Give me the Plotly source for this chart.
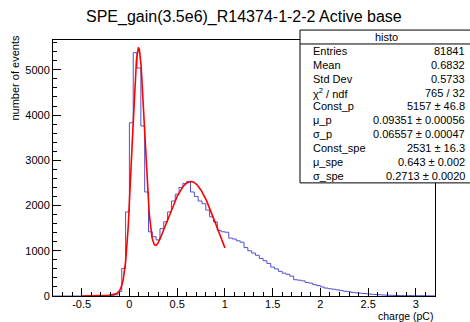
import numpy as np
import plotly.graph_objects as go

# ---------------- data ----------------
title = "SPE_gain(3.5e6)_R14374-1-2-2 Active base"
hist_low = -0.8
hist_bin_width = 0.04
counts = [
    0, 0, 0, 0, 0, 0, 0, 0, 0, 0,
    0, 0, 1, 2, 3, 8, 25, 100, 610, 1860,
    3830, 5380, 5040, 3760, 2300, 1420, 1310, 1240, 1490, 1640,
    1860, 2100, 2250, 2400, 2490, 2530, 2300, 2200, 2100, 2040,
    1900, 1750, 1640, 1450, 1420, 1410, 1280, 1260, 1220, 1190,
    1070, 1000, 950, 900, 830, 780, 720, 640, 600, 545,
    505, 480, 440, 360, 350, 335, 300, 285, 250, 230,
    200, 175, 160, 150, 135, 120, 105, 95, 80, 70,
    62, 55, 45, 38, 33, 28, 22, 18, 15, 13,
    11, 10, 8, 10, 7, 6, 8, 5, 4, 3,
]
# fit parameters (two gaussians), fit range
fit_params = {"Const_p": 5157, "mu_p": 0.09351, "sigma_p": 0.06557,
              "Const_spe": 2531, "mu_spe": 0.643, "sigma_spe": 0.2713}
fit_range = [-0.5, 1.0]

stats_labels = ["Entries", "Mean", "Std Dev", "χ<sup>2</sup> / ndf", "Const_p", "μ_p", "σ_p",
                "Const_spe", "μ_spe", "σ_spe"]
stats_values = ["81841", "0.6832", "0.5733", "765 / 32", "5157 ± 46.8", "0.09351 ± 0.00056",
                "0.06557 ± 0.00047", "2531 ± 16.3", "0.643 ± 0.002", "0.2713 ± 0.0020"]

x_tickvals = [-0.5, 0, 0.5, 1, 1.5, 2, 2.5, 3]
x_ticktext = ["-0.5", "0", "0.5", "1", "1.5", "2", "2.5", "3"]
y_tickvals = [0, 1000, 2000, 3000, 4000, 5000]
y_ticktext = ["0", "1000", "2000", "3000", "4000", "5000"]

# ---------------- figure ----------------
W, H = 470, 322
L, R, T, B = 53, 435, 40, 298  # frame pixel box

edges = hist_low + hist_bin_width * np.arange(len(counts) + 1)
xs = np.concatenate([[edges[0]], edges])
ys = np.concatenate([[0], counts, [counts[-1]]])

fx = np.linspace(fit_range[0], fit_range[1], 600)
p = fit_params
fy = (p["Const_p"] * np.exp(-0.5 * ((fx - p["mu_p"]) / p["sigma_p"]) ** 2)
      + p["Const_spe"] * np.exp(-0.5 * ((fx - p["mu_spe"]) / p["sigma_spe"]) ** 2))

fig = go.Figure()
fig.add_trace(go.Scatter(x=xs, y=ys, mode="lines", line=dict(shape="hv", color="rgb(80,80,205)", width=1),
                         hoverinfo="skip", showlegend=False))
fig.add_trace(go.Scatter(x=fx, y=fy, mode="lines", line=dict(color="red", width=1.6),
                         hoverinfo="skip", showlegend=False))

font = "Liberation Sans, Arial, sans-serif"
fig.update_layout(
    width=W, height=H,
    margin=dict(l=L, r=W - R, t=T, b=H - B),
    paper_bgcolor="white", plot_bgcolor="white",
    font=dict(family=font, size=11, color="black"),
    xaxis=dict(range=[-0.8, 3.2], tickvals=x_tickvals, ticktext=x_ticktext,
               ticks="inside", ticklen=8, tickcolor="black", showline=True, linecolor="black",
               linewidth=1, mirror=True, showgrid=False, zeroline=False, ticklabelstandoff=-2,
               minor=dict(ticks="inside", ticklen=4, dtick=0.1, tickcolor="black", showgrid=False),
               tickfont=dict(size=11)),
    yaxis=dict(range=[0, 5660], tickvals=y_tickvals, ticktext=y_ticktext,
               ticks="inside", ticklen=8, tickcolor="black", showline=True, linecolor="black",
               linewidth=1, mirror=True, showgrid=False, zeroline=False,
               minor=dict(ticks="inside", ticklen=4, dtick=200, tickcolor="black", showgrid=False),
               tickfont=dict(size=11)),
)

def px_x(px):
    return (px - L) / (R - L)

def px_y(py):
    return (B - py) / (B - T)

ann = []
ann.append(dict(text=title, x=px_x(244), y=px_y(17), xref="paper", yref="paper",
                showarrow=False, xanchor="center", yanchor="middle",
                font=dict(size=16, family=font)))
ann.append(dict(text="number of events", x=px_x(15), y=px_y(34), xref="paper", yref="paper",
                showarrow=False, textangle=-90, xanchor="center", yanchor="top",
                font=dict(size=11, family=font)))
ann.append(dict(text="charge (pC)", x=px_x(435), y=px_y(318), xref="paper", yref="paper",
                showarrow=False, xanchor="right", yanchor="middle",
                font=dict(size=10.5, family=font)))

# stats box (right edge runs past the window, as in the reference)
bx0, bx1, by0, by1 = 300, 472, 30, 184
val_right = 467
nrows = len(stats_labels) + 1
rh = (by1 - by0) / nrows
shapes = [
    dict(type="rect", xref="paper", yref="paper", x0=px_x(bx0), x1=px_x(bx1), y0=px_y(by1), y1=px_y(by0),
         fillcolor="white", line=dict(color="black", width=1), layer="above"),
    dict(type="line", xref="paper", yref="paper", x0=px_x(bx0), x1=px_x(bx1),
         y0=px_y(by0 + rh), y1=px_y(by0 + rh), line=dict(color="black", width=1), layer="above"),
]
ann.append(dict(text="histo", x=px_x(386), y=px_y(by0 + rh / 2), xref="paper", yref="paper",
                showarrow=False, xanchor="center", yanchor="middle", font=dict(size=11, family=font)))
for i, (lab, val) in enumerate(zip(stats_labels, stats_values)):
    yc = by0 + rh * (i + 1.5)
    ann.append(dict(text=lab, x=px_x(bx0 + 11), y=px_y(yc), xref="paper", yref="paper",
                    showarrow=False, xanchor="left", yanchor="middle", font=dict(size=11, family=font)))
    ann.append(dict(text=val, x=px_x(val_right), y=px_y(yc), xref="paper", yref="paper",
                    showarrow=False, xanchor="right", yanchor="middle", font=dict(size=11, family=font)))

fig.update_layout(annotations=ann, shapes=shapes)
fig.write_html("out.html", config={"displayModeBar": False},
               post_script="document.body.style.margin='0';document.body.style.padding='0';")
